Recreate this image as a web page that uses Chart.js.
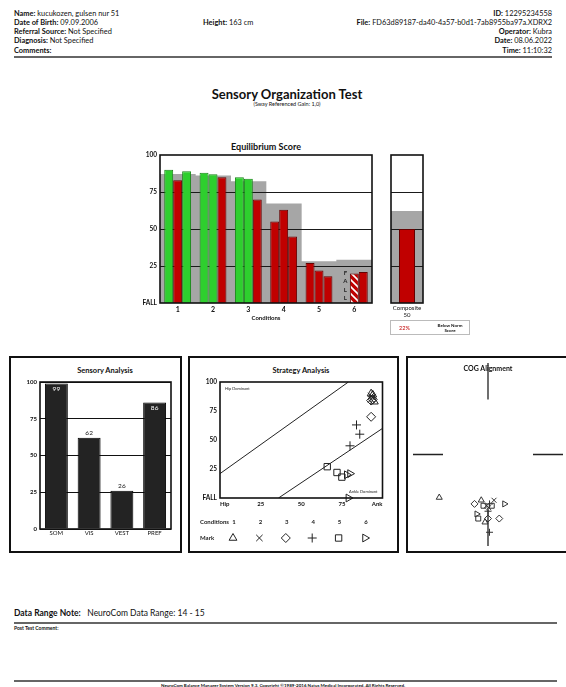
<!DOCTYPE html>
<html>
<head>
<meta charset="utf-8">
<title>Sensory Organization Test</title>
<script src="https://cdn.jsdelivr.net/npm/chart.js@4.4.1/dist/chart.umd.min.js"></script>
<style>
  body { margin:0; width:566px; height:687px; overflow:hidden; position:relative; background:#fff;
         font-family:Lato, "Open Sans", sans-serif; color:#111; }
  .abs { position:absolute; white-space:nowrap; }
  .hdr { font-size:7.4px; line-height:9.3px; }
  .panel { position:absolute; border:2px solid #111; box-sizing:border-box; }
  .rule { position:absolute; height:2px; background:#666; }
  canvas.cv { position:absolute; display:block; }
</style>
</head>
<body>

<div class="abs hdr" style="left:14px;top:8.5px">
  <b>Name:</b> kucukozen, gulsen nur 51<br>
  <b>Date of Birth:</b> 09.09.2006<br>
  <b>Referral Source:</b> Not Specified<br>
  <b>Diagnosis:</b> Not Specified<br>
  <b>Comments:</b>
</div>
<div class="abs hdr" style="left:203px;top:17.8px"><b>Height:</b> 163 cm</div>
<div class="abs hdr" style="right:14px;top:8.5px;text-align:right">
  <b>ID:</b> 12295234558<br>
  <b>File:</b> FD63d89187-da40-4a57-b0d1-7ab8955ba97a.XDRX2<br>
  <b>Operator:</b> Kubra<br>
  <b>Date:</b> 08.06.2022<br>
  <b>Time:</b> 11:10:32
</div>
<div class="rule" style="left:14px;top:56px;width:538px"></div>

<div class="abs" style="left:0;width:574px;top:86px;text-align:center;font-size:13px;line-height:16px;font-weight:700">Sensory Organization Test</div>
<div class="abs" style="left:0;width:574px;top:101px;text-align:center;font-size:5.5px;line-height:6px">(Sway Referenced Gain: 1,0)</div>

<div class="abs" style="left:166px;width:200px;top:140.5px;text-align:center;font-size:9px;line-height:11px;font-weight:700">Equilibrium Score</div>
<canvas id="eqChart" class="cv" width="256" height="176" style="left:120px;top:147px"></canvas>
<canvas id="compChart" class="cv" width="40" height="176" style="left:387px;top:147px"></canvas>
<div class="abs" id="normBox" style="left:390px;top:320px;width:80px;height:15px;border:1px solid #bbb;box-sizing:border-box">
  <span id="belowNorm" class="abs" style="left:8px;top:4px;font-size:5.5px;color:#c00000"></span>
  <span class="abs" style="left:40px;width:38px;top:1.5px;text-align:center;font-size:4.5px;line-height:5.5px;font-weight:700">Below Norm<br>Score</span>
</div>

<div class="panel" style="left:9px;top:356px;width:173px;height:197px"></div>
<div class="abs" style="left:55px;width:100px;top:366px;text-align:center;font-size:7.5px;line-height:10px;font-weight:700">Sensory Analysis</div>
<canvas id="sensChart" class="cv" width="161" height="167" style="left:14px;top:374px"></canvas>

<div class="panel" style="left:188px;top:356px;width:211px;height:197px"></div>
<div class="abs" style="left:251px;width:100px;top:366px;text-align:center;font-size:7.5px;line-height:10px;font-weight:700">Strategy Analysis</div>
<canvas id="stratChart" class="cv" width="196" height="176" style="left:192px;top:374px"></canvas>

<div class="panel" style="left:406px;top:356px;width:170px;height:197px"></div>
<div class="abs" style="left:438px;width:100px;top:363px;text-align:center;font-size:7px;line-height:10px;font-weight:700">COG Alignment</div>
<canvas id="cogChart" class="cv" width="160" height="193" style="left:408px;top:358px"></canvas>

<div class="abs" style="left:14px;top:607px;font-size:8.5px;line-height:12px"><b>Data Range Note:</b>&nbsp;&nbsp; NeuroCom Data Range: 14 - 15</div>
<div class="rule" style="left:14px;top:622px;width:543px"></div>
<div class="abs" style="left:14px;top:625px;font-size:5px;line-height:6px;font-weight:700">Post Test Comment:</div>
<div class="rule" style="left:14px;top:680px;width:543px"></div>
<div class="abs" style="left:0;width:566px;top:683px;text-align:center;font-size:4.5px;line-height:6px;font-weight:700">NeuroCom Balance Manager System Version 9.3. Copyright ©1989-2016 Natus Medical Incorporated. All Rights Reserved.</div>

<script>
// equilibrium scores per trial (0 = FALL)
const conditions = ['1', '2', '3', '4', '5', '6'];
const trial1 = [90, 88, 85, 55, 27, 0];
const trial2 = [83, 87, 84, 63, 22, 20];
const trial3 = [89, 85, 70, 45, 18, 21];
const normScores = [87, 86, 82, 67, 28, 29];
const hatchedTrial2 = [false, false, false, false, false, true];
const scoreTicks = [0, 25, 50, 75, 100];

const compositeScore = 50;
const compositeNorm = 62;
const belowNorm = '22%';

const sensoryLabels = ['SOM', 'VIS', 'VEST', 'PREF'];
const sensoryValues = [99, 62, 26, 86];

// strategy score (x) per trial, y is the equilibrium score
const strategyT1 = [93, 93, 94, 86, 66, 79];
const strategyT2 = [95, 94, 93, 84, 72, 78];
const strategyT3 = [94, 93, 93, 80, 75, 80];
const hipLine = [[0, 21], [79, 100]];
const ankleLine = [[36, 0], [100, 60]];
const markStyles = ['triangle', 'crossRot', 'rectRot', 'cross', 'rect', 'triangle'];
const markRotation = [0, 0, 0, 0, 0, 90];

// COG alignment per trial
const cogX1 = [-6.5, 0.8, -1.8, 0.2, -0.6, null];
const cogY1 = [-4.7, -5.0, -5.4, -8.5, -5.6, null];
const cogX2 = [-0.9, -0.2, 0.0, 0.0, 0.5, 2.2];
const cogY2 = [-5.0, -5.6, -7.0, -6.2, -5.6, -5.4];
const cogX3 = [-0.4, 0.1, 1.5, 0.2, -1.3, -1.5];
const cogY3 = [-7.4, -5.8, -7.0, -5.4, -7.0, -6.5];

document.getElementById('belowNorm').textContent = belowNorm;

Chart.defaults.font.family = 'Lato, "Open Sans", sans-serif';
Chart.defaults.color = '#111';
Chart.defaults.animation = false;
Chart.defaults.plugins.legend.display = false;
Chart.defaults.plugins.tooltip.enabled = false;

const GREEN = '#2ecf2e', GREEN_D = '#168516', RED = '#c00000', RED_D = '#650000', GREY = '#a6a6a6';
const scoreLabel = v => v === 0 ? 'FALL' : String(v);

function makeHatch() {
  const c = document.createElement('canvas');
  c.width = 7; c.height = 7;
  const g = c.getContext('2d');
  g.fillStyle = RED; g.fillRect(0, 0, 7, 7);
  g.strokeStyle = '#fff'; g.lineWidth = 1.6;
  g.beginPath();
  g.moveTo(-1, -1); g.lineTo(8, 8);
  g.moveTo(-1, 6); g.lineTo(1, 8);
  g.moveTo(6, -1); g.lineTo(8, 1);
  g.stroke();
  return g.createPattern(c, 'repeat');
}
const hatch = makeHatch();

const frame = {
  id: 'frame',
  afterDraw(chart) {
    const { ctx, chartArea: a } = chart;
    ctx.save();
    ctx.strokeStyle = '#111';
    ctx.lineWidth = 1.6;
    ctx.strokeRect(a.left, a.top, a.right - a.left, a.bottom - a.top);
    ctx.restore();
  }
};

// grid lines go over the grey norm bars but under the trial bars
const normGrid = {
  id: 'normGrid',
  afterDatasetDraw(chart, args) {
    if (chart.data.datasets[args.index].label !== 'Norm') return;
    const { ctx, chartArea: a, scales: { y } } = chart;
    ctx.save();
    ctx.strokeStyle = '#1a1a1a';
    ctx.lineWidth = 1;
    scoreTicks.forEach(t => {
      if (t <= 0 || t >= 100) return;
      const py = Math.round(y.getPixelForValue(t)) + 0.5;
      ctx.beginPath(); ctx.moveTo(a.left, py); ctx.lineTo(a.right, py); ctx.stroke();
    });
    ctx.restore();
  }
};

const fallText = {
  id: 'fallText',
  afterDatasetsDraw(chart) {
    const { ctx } = chart;
    const y = chart.scales.y;
    chart.data.datasets.forEach((ds, di) => {
      if (ds.label === 'Norm') return;
      const meta = chart.getDatasetMeta(di);
      ds.data.forEach((v, i) => {
        if (v !== 0) return;
        const x = meta.data[i].x;
        ctx.save();
        ctx.fillStyle = '#222';
        ctx.font = 'bold 6px Lato';
        ctx.textAlign = 'center';
        ctx.textBaseline = 'middle';
        'FALL'.split('').forEach((ch, k) => ctx.fillText(ch, x, y.bottom - 4.5 - (3 - k) * 8.5));
        ctx.restore();
      });
    });
  }
};

function trialSet(label, values, hatchFlags) {
  return {
    label, data: values, order: 0,
    backgroundColor: c => {
      if (hatchFlags && hatchFlags[c.dataIndex]) return hatch;
      return c.raw >= normScores[c.dataIndex] ? GREEN : RED;
    },
    borderColor: c => c.raw >= normScores[c.dataIndex] ? GREEN_D : RED_D,
    borderWidth: c => c.raw === 0 ? 0 : 1,
    borderSkipped: 'bottom',
    categoryPercentage: 0.76,
    barPercentage: 1
  };
}

const scoreAxis = (width, show) => ({
  min: 0, max: 100, display: show,
  grid: { display: false, drawTicks: false },
  border: { display: false },
  ticks: { stepSize: 25, callback: scoreLabel, font: { size: 6.5, weight: 'bold' }, padding: 3 },
  afterFit: s => { s.width = width; }
});

new Chart(document.getElementById('eqChart'), {
  type: 'bar',
  data: {
    labels: conditions,
    datasets: [
      trialSet('Trial 1', trial1),
      trialSet('Trial 2', trial2, hatchedTrial2),
      trialSet('Trial 3', trial3),
      { label: 'Norm', data: normScores, backgroundColor: GREY, borderWidth: 0,
        grouped: false, categoryPercentage: 1, barPercentage: 1, order: 1 }
    ]
  },
  options: {
    responsive: false,
    layout: { padding: { top: 8, right: 4, left: 0, bottom: 0 } },
    scales: {
      x: {
        grid: { display: false, drawTicks: false },
        border: { display: false },
        ticks: { font: { size: 7, weight: 'bold' }, padding: 3 },
        title: { display: true, text: 'Conditions', font: { size: 6, weight: 'bold' }, padding: { top: 0, bottom: 1 } },
        afterFit: s => { s.height = 20; }
      },
      y: scoreAxis(40, true)
    }
  },
  plugins: [normGrid, fallText, frame]
});

new Chart(document.getElementById('compChart'), {
  type: 'bar',
  data: {
    labels: [['Composite', String(compositeScore)]],
    datasets: [
      { label: 'Composite', data: [compositeScore], backgroundColor: RED, borderColor: RED_D, borderWidth: 1,
        borderSkipped: 'bottom', categoryPercentage: 1, barPercentage: 0.5, order: 0 },
      { label: 'Norm', data: [compositeNorm], backgroundColor: GREY, borderWidth: 0,
        grouped: false, categoryPercentage: 1, barPercentage: 1, order: 1 }
    ]
  },
  options: {
    responsive: false,
    layout: { padding: { top: 8, right: 4, left: 4, bottom: 0 } },
    scales: {
      x: {
        grid: { display: false, drawTicks: false },
        border: { display: false },
        ticks: { font: { size: 6 }, padding: 1 },
        afterFit: s => { s.height = 20; }
      },
      y: scoreAxis(0, false)
    }
  },
  plugins: [normGrid, frame]
});

const barLabels = {
  id: 'barLabels',
  afterDatasetsDraw(chart) {
    const { ctx } = chart;
    const meta = chart.getDatasetMeta(0);
    ctx.save();
    ctx.font = '6.5px Lato';
    ctx.textAlign = 'center';
    ctx.textBaseline = 'middle';
    sensoryValues.forEach((v, i) => {
      const bar = meta.data[i];
      if (v >= 80) {
        ctx.fillStyle = '#fff';
        ctx.fillText(String(v), bar.x, bar.y + 5);
      } else {
        ctx.fillStyle = '#111';
        ctx.fillText(String(v), bar.x, bar.y - 4.5);
      }
    });
    ctx.restore();
  }
};

new Chart(document.getElementById('sensChart'), {
  type: 'bar',
  data: {
    labels: sensoryLabels,
    datasets: [{ label: 'Sensory', data: sensoryValues, backgroundColor: '#232323', borderColor: '#000',
      borderWidth: 1, categoryPercentage: 1, barPercentage: 0.7 }]
  },
  options: {
    responsive: false,
    layout: { padding: { top: 8, right: 4, left: 0, bottom: 0 } },
    scales: {
      x: {
        grid: { display: false, drawTicks: false },
        border: { display: false },
        ticks: { font: { size: 6 }, padding: 0 },
        afterFit: s => { s.height = 12; }
      },
      y: {
        min: 0, max: 100,
        grid: { color: '#111', lineWidth: 1, drawTicks: false },
        border: { display: false },
        ticks: { stepSize: 25, font: { size: 6, weight: 'bold' }, padding: 3 },
        afterFit: s => { s.width = 26; }
      }
    }
  },
  plugins: [barLabels, frame]
});

const markSets = markStyles.map((style, c) => ({
  label: 'Condition ' + conditions[c],
  data: [[strategyT1, trial1], [strategyT2, trial2], [strategyT3, trial3]]
    .map(([sx, eq]) => ({ x: sx[c], y: eq[c] })),
  pointStyle: style,
  rotation: markRotation[c],
  pointRadius: 4.5,
  borderColor: '#222',
  backgroundColor: 'rgba(0,0,0,0)',
  borderWidth: 1,
  clip: false
}));

const strategyNotes = {
  id: 'strategyNotes',
  afterDraw(chart) {
    const { ctx, chartArea: a } = chart;
    const H = Chart.helpers;
    ctx.save();
    ctx.fillStyle = '#222';
    ctx.textBaseline = 'middle';
    ctx.font = '4px Lato';
    ctx.textAlign = 'left';
    ctx.fillText('Hip Dominant', a.left + 5, a.top + 7);
    ctx.textAlign = 'right';
    ctx.fillText('Ankle Dominant', a.right - 5, a.bottom - 6);

    // legend rows: condition numbers and their marks
    const rowC = a.bottom + 24, rowM = a.bottom + 40;
    ctx.font = 'bold 6px Lato';
    ctx.textAlign = 'left';
    ctx.fillText('Conditions', a.left - 20, rowC);
    ctx.fillText('Mark', a.left - 20, rowM);
    ctx.textAlign = 'center';
    ctx.strokeStyle = '#222';
    markStyles.forEach((style, i) => {
      const cx = a.left + 14 + i * 26.4;
      ctx.fillStyle = '#222';
      ctx.fillText(conditions[i], cx, rowC);
      ctx.fillStyle = 'rgba(0,0,0,0)';
      ctx.lineWidth = 1;
      H.drawPoint(ctx, { pointStyle: style, rotation: markRotation[i], radius: 4.5, borderWidth: 1 }, cx - 1, rowM);
    });
    ctx.restore();
  }
};

new Chart(document.getElementById('stratChart'), {
  type: 'scatter',
  data: {
    datasets: [
      { label: 'Hip', data: hipLine.map(([x, y]) => ({ x, y })), showLine: true, pointRadius: 0,
        borderColor: '#222', borderWidth: 1 },
      { label: 'Ankle', data: ankleLine.map(([x, y]) => ({ x, y })), showLine: true, pointRadius: 0,
        borderColor: '#222', borderWidth: 1 },
      ...markSets
    ]
  },
  options: {
    responsive: false,
    layout: { padding: { top: 8, right: 4, left: 0, bottom: 40 } },
    scales: {
      x: {
        min: 0, max: 100,
        grid: { display: false, drawTicks: false },
        border: { display: false },
        ticks: { stepSize: 25, align: 'inner', autoSkip: false, font: { size: 6, weight: 'bold' }, padding: 2,
          callback: v => v === 0 ? 'Hip' : v === 100 ? 'Ank' : String(v) },
        afterFit: s => { s.height = 12; }
      },
      y: scoreAxis(28, true)
    }
  },
  plugins: [strategyNotes, frame]
});

const crosshair = {
  id: 'crosshair',
  beforeDatasetsDraw(chart) {
    const { ctx, scales: { x, y } } = chart;
    const cx = x.getPixelForValue(0), cy = y.getPixelForValue(0);
    ctx.save();
    ctx.strokeStyle = '#222';
    ctx.lineWidth = 1.3;
    ctx.beginPath();
    ctx.moveTo(cx, y.getPixelForValue(10)); ctx.lineTo(cx, y.getPixelForValue(6));
    ctx.moveTo(cx, y.getPixelForValue(-6)); ctx.lineTo(cx, y.getPixelForValue(-10));
    ctx.moveTo(x.getPixelForValue(-10), cy); ctx.lineTo(x.getPixelForValue(-6), cy);
    ctx.moveTo(x.getPixelForValue(6), cy); ctx.lineTo(x.getPixelForValue(10), cy);
    ctx.stroke();
    ctx.restore();
  }
};

const cogSets = markStyles.map((style, c) => ({
  label: 'Condition ' + conditions[c],
  data: [[cogX1, cogY1], [cogX2, cogY2], [cogX3, cogY3]]
    .filter(([xs]) => xs[c] !== null)
    .map(([xs, ys]) => ({ x: xs[c], y: ys[c] })),
  pointStyle: style,
  rotation: markRotation[c],
  pointRadius: 3.5,
  borderColor: '#333',
  backgroundColor: 'rgba(0,0,0,0)',
  borderWidth: 1
}));

new Chart(document.getElementById('cogChart'), {
  type: 'scatter',
  data: { datasets: cogSets },
  options: {
    responsive: false,
    layout: { padding: 0 },
    scales: {
      x: { min: -10, max: 10, display: false },
      y: { min: -10, max: 10, display: false }
    }
  },
  plugins: [crosshair]
});
</script>
</body>
</html>
